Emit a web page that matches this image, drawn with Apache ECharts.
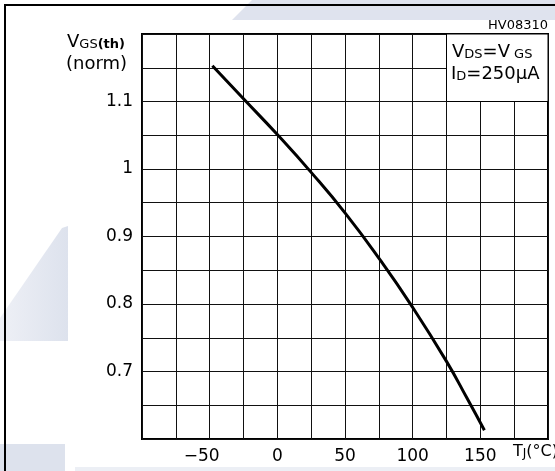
<!DOCTYPE html>
<html>
<head>
<meta charset="utf-8">
<script src="https://cdn.jsdelivr.net/npm/echarts@6/dist/echarts.min.js"></script>
<style>
  html, body { margin: 0; padding: 0; background: #fff; }
  #chart { width: 555px; height: 471px; }
</style>
</head>
<body>
<div id="chart"></div>
<script>
// Normalized gate threshold voltage vs junction temperature
const tempC = [-48, -25, 0, 25, 50, 75, 100, 125, 140, 153];
const vgsNorm = [1.153, 1.104, 1.051, 0.995, 0.935, 0.868, 0.795, 0.715, 0.661, 0.613];

// Axis ranges and labelled ticks
const xRange = [-100, 200];
const xStep = 25;
const xTickLabels = [-50, 0, 50, 100, 150];
const yRange = [0.6, 1.2];
const yStep = 0.05;
const yTickLabels = [0.7, 0.8, 0.9, 1, 1.1];

// Condition box corner values (in axis units)
const condBoxX = [125, 200];
const condBoxY = [1.1, 1.2];

const FONT = 'DejaVu Sans';

const chart = echarts.init(document.getElementById('chart'), null, { renderer: 'canvas' });

function near(v, list) {
  return list.some(t => Math.abs(t - v) < 1e-6);
}

const option = {
  animation: false,
  backgroundColor: '#fff',
  grid: {
    left: 142, top: 34, right: 7, bottom: 32,
    show: true,
    borderColor: '#000',
    borderWidth: 2,
    backgroundColor: 'transparent'
  },
  xAxis: {
    type: 'value',
    min: xRange[0], max: xRange[1], interval: xStep,
    axisLine: { show: false },
    axisTick: { show: false },
    splitLine: { show: true, lineStyle: { color: '#111', width: 1 } },
    axisLabel: {
      margin: 9,
      color: '#000',
      fontFamily: FONT,
      fontSize: 17,
      showMinLabel: true,
      showMaxLabel: true,
      formatter: function (v) {
        if (!near(v, xTickLabels)) return '';
        if (v < 0) return '{n|\u2212' + Math.abs(v) + '}{sp|}';
        return '{n|' + v + '}';
      },
      rich: {
        n: { fontFamily: FONT, fontSize: 17, color: '#000' },
        sp: { width: 16 }
      }
    }
  },
  yAxis: {
    type: 'value',
    min: yRange[0], max: yRange[1], interval: yStep,
    axisLine: { show: false },
    axisTick: { show: false },
    splitLine: { show: true, lineStyle: { color: '#111', width: 1 } },
    axisLabel: {
      margin: 9,
      color: '#000',
      fontFamily: FONT,
      fontSize: 17,
      formatter: function (v) {
        if (!near(v, yTickLabels)) return '';
        return String(Math.round(v * 10) / 10);
      }
    }
  },
  series: [{
    type: 'line',
    data: tempC.map((t, i) => [t, vgsNorm[i]]),
    smooth: 0.5,
    showSymbol: false,
    lineStyle: { color: '#000', width: 3 },
    z: 5,
    markArea: {
      silent: true,
      z: 3,
      itemStyle: { color: '#fff', borderColor: '#000', borderWidth: 1 },
      data: [[
        { xAxis: condBoxX[0], yAxis: condBoxY[0] },
        { xAxis: condBoxX[1], yAxis: condBoxY[1] }
      ]]
    }
  }],
  graphic: [
    // faint background blotches
    {
      type: 'polygon', z: -10, silent: true,
      shape: { points: [[252, 0], [555, 0], [555, 20], [232, 20]] },
      style: { fill: '#dfe3ee' }
    },
    {
      type: 'polygon', z: -10, silent: true,
      shape: { points: [[0, 318], [62, 228], [68, 226], [68, 341], [0, 341]] },
      style: {
        fill: new echarts.graphic.LinearGradient(0, 0, 1, 0, [
          { offset: 0, color: '#eef0f6' },
          { offset: 1, color: '#dde2ed' }
        ])
      }
    },
    {
      type: 'rect', z: -10, silent: true,
      shape: { x: 0, y: 444, width: 65, height: 27 },
      style: { fill: '#dde2ed' }
    },
    {
      type: 'rect', z: -10, silent: true,
      shape: { x: 75, y: 467, width: 480, height: 4 },
      style: { fill: '#eceff5' }
    },
    // outer frame
    {
      type: 'rect', z: 1, silent: true,
      shape: { x: 5, y: 5, width: 600, height: 520 },
      style: { fill: 'none', stroke: '#000', lineWidth: 2 }
    },
    // figure code
    {
      type: 'text', z: 10, silent: true,
      right: 7, top: 19,
      style: { text: 'HV08310', fontFamily: FONT, fontSize: 13, fill: '#000' }
    },
    // y axis title
    {
      type: 'text', z: 10, silent: true,
      left: 67, top: 33,
      style: {
        text: '{v|V}{s|GS}{p|(th)}',
        rich: {
          v: { fontFamily: FONT, fontSize: 18, fill: '#000', verticalAlign: 'bottom' },
          s: { fontFamily: FONT, fontSize: 13, fill: '#000', verticalAlign: 'bottom' },
          p: { fontFamily: FONT, fontSize: 13, fill: '#000', verticalAlign: 'bottom', fontWeight: 'bold' }
        }
      }
    },
    {
      type: 'text', z: 10, silent: true,
      left: 66, top: 55,
      style: { text: '(norm)', fontFamily: FONT, fontSize: 18, fill: '#000' }
    },
    // x axis title
    {
      type: 'text', z: 10, silent: true,
      left: 513, top: 444,
      style: {
        text: '{t|T}{j|J}{t|(°C)}',
        rich: {
          t: { fontFamily: FONT, fontSize: 16, fill: '#000', verticalAlign: 'bottom' },
          j: { fontFamily: FONT, fontSize: 12, fill: '#000', verticalAlign: 'bottom' }
        }
      }
    },
    // test conditions
    {
      type: 'text', z: 10, silent: true,
      left: 452, top: 43,
      style: {
        text: '{b|V}{s|DS}{b|=V}{s| GS}',
        rich: {
          b: { fontFamily: FONT, fontSize: 18, fill: '#000', verticalAlign: 'bottom' },
          s: { fontFamily: FONT, fontSize: 13, fill: '#000', verticalAlign: 'bottom' }
        }
      }
    },
    {
      type: 'text', z: 10, silent: true,
      left: 451, top: 65,
      style: {
        text: '{b|I}{s|D}{b|=250µA}',
        rich: {
          b: { fontFamily: FONT, fontSize: 18, fill: '#000', verticalAlign: 'bottom' },
          s: { fontFamily: FONT, fontSize: 13, fill: '#000', verticalAlign: 'bottom' }
        }
      }
    }
  ]
};

chart.setOption(option);
</script>
</body>
</html>
